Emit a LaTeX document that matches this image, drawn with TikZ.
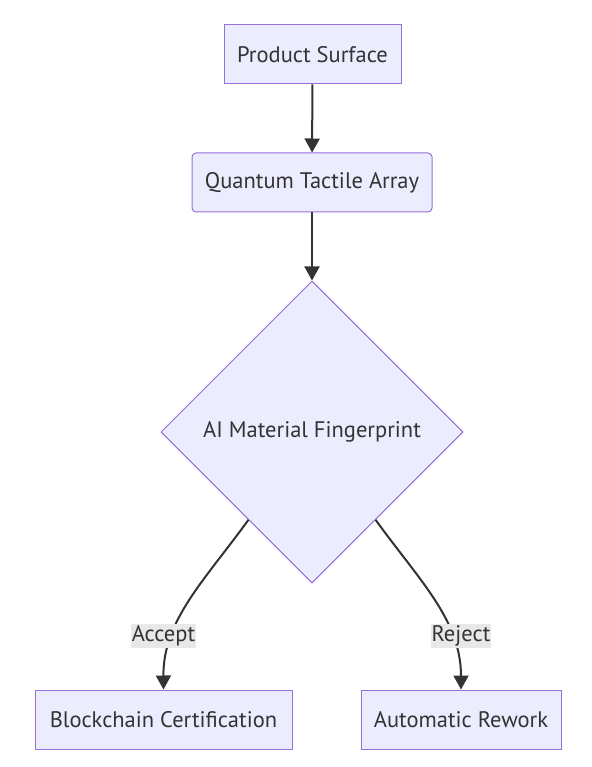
\documentclass[tikz,border=0pt]{standalone}
\usepackage{fontspec}
\setmainfont{PT Sans}
\usetikzlibrary{shapes.geometric,arrows.meta,calc}
\definecolor{nodefill}{HTML}{ECECFF}
\definecolor{nodeborder}{HTML}{9370DB}
\definecolor{edgecol}{HTML}{333333}
\definecolor{labelbg}{HTML}{E8E8E8}
\begin{document}
\begin{tikzpicture}[x=1pt,y=-1pt,
  font=\fontsize{22.5pt}{26pt}\selectfont,
  every node/.style={text=edgecol},
  box/.style={draw=nodeborder,fill=nodefill,line width=1pt,minimum height=59pt,inner sep=0pt},
  dec/.style={diamond,aspect=1,draw=nodeborder,fill=nodefill,line width=1pt,minimum width=302pt,minimum height=302pt,inner sep=0pt},
  flow/.style={draw=edgecol,line width=2pt,-{Triangle[length=14pt,width=15pt]}},
  elabel/.style={fill=labelbg,inner xsep=1pt,inner ysep=1pt,minimum height=24pt}]
\useasboundingbox (0,0) rectangle (591,767);
\node[box,minimum width=177pt] (ps) at (312.5,54.5) {Product Surface};
\node[box,minimum width=240pt,rounded corners=4pt] (qt) at (312,182.5) {Quantum Tactile Array};
\node[dec] (ai) at (312,432) {AI Material Fingerprint};
\node[box,minimum width=257pt] (bc) at (163.5,719.5) {Blockchain Certification};
\node[box,minimum width=200pt] (ar) at (461,719.5) {Automatic Rework};
\draw[flow] (ps) -- (qt);
\draw[flow] (qt) -- (ai);
\coordinate (ls) at ($(ai.west)!0.58!(ai.south)$);
\coordinate (rs) at ($(ai.east)!0.58!(ai.south)$);
\draw[flow] (ls) .. controls (205,580) and (163,620) .. (bc.north);
\draw[flow] (rs) .. controls (419,580) and (461,620) .. (ar.north);
\node[elabel] (la) at (163.5,636) {Accept};
\node[elabel] (lr) at (461,636) {Reject};
\end{tikzpicture}
\end{document}
